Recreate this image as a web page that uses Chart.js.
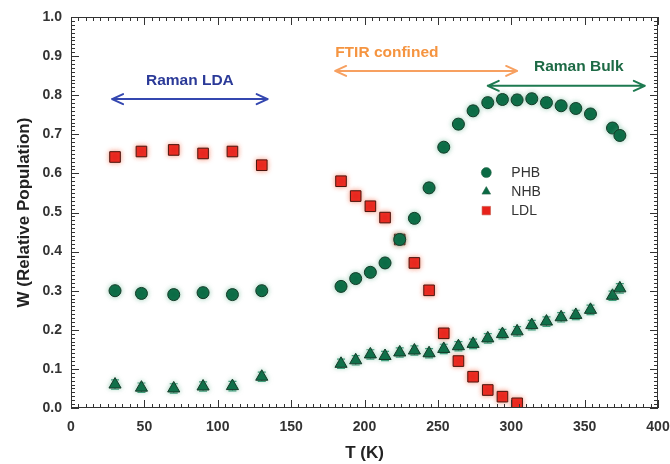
<!DOCTYPE html>
<html>
<head>
<meta charset="utf-8">
<script src="https://cdn.jsdelivr.net/npm/chart.js@4/dist/chart.umd.min.js"></script>
<style>
  html, body { margin: 0; padding: 0; background: #ffffff; }
  #wrap { width: 670px; height: 464px; position: relative; }
</style>
</head>
<body>
<div id="wrap"><canvas id="c" width="670" height="464"></canvas></div>
<script>
// ---- data ----
const tLow = [30, 48, 70, 90, 110, 130];
const tHigh = [184, 194, 204, 214, 224, 234, 244, 254, 264, 274, 284, 294, 304, 314, 324, 334, 344, 354, 369, 374];

const phbLow = [0.300, 0.293, 0.290, 0.295, 0.290, 0.300];
const nhbLow = [0.060, 0.052, 0.050, 0.055, 0.056, 0.080];
const ldlLow = [0.642, 0.656, 0.660, 0.651, 0.656, 0.621];

const phbHigh = [0.311, 0.331, 0.347, 0.371, 0.431, 0.485, 0.563, 0.667, 0.726, 0.760, 0.781, 0.789, 0.788, 0.791, 0.781, 0.773, 0.766, 0.752, 0.716, 0.697];
const nhbHigh = [0.113, 0.122, 0.137, 0.133, 0.142, 0.147, 0.140, 0.151, 0.158, 0.164, 0.178, 0.189, 0.196, 0.212, 0.221, 0.232, 0.238, 0.251, 0.287, 0.306];
const tLdlHigh = [184, 194, 204, 214, 224, 234, 244, 254, 264, 274, 284, 294, 304];
const ldlHigh = [0.580, 0.542, 0.516, 0.487, 0.431, 0.371, 0.301, 0.191, 0.120, 0.080, 0.046, 0.029, 0.012];

const errW = 0.012;

const xTicks = [0, 50, 100, 150, 200, 250, 300, 350, 400];
const yTicks = [0.0, 0.1, 0.2, 0.3, 0.4, 0.5, 0.6, 0.7, 0.8, 0.9, 1.0];

const seriesNames = ['PHB', 'NHB', 'LDL'];

function pts(xs, ys) { return xs.map((x, i) => ({ x: x, y: ys[i] })); }

const GREEN = '#0a6a44';
const RED = '#e8221b';

const data = {
  datasets: [
    { label: seriesNames[0], data: pts(tLow, phbLow).concat(pts(tHigh, phbHigh)),
      pointStyle: 'circle', pointRadius: 6, backgroundColor: GREEN, borderColor: '#153a28', borderWidth: 1, halo: 'rgba(80,170,130,0.55)' },
    { label: seriesNames[1], data: pts(tLow, nhbLow).concat(pts(tHigh, nhbHigh)),
      pointStyle: 'triangle', pointRadius: 7, backgroundColor: GREEN, borderColor: '#153a28', borderWidth: 1, halo: 'rgba(80,170,130,0.55)' },
    { label: seriesNames[2], data: pts(tLow, ldlLow).concat(pts(tLdlHigh, ldlHigh)),
      pointStyle: 'rect', pointRadius: 7.5, backgroundColor: RED, borderColor: '#4a160f', borderWidth: 1, halo: 'rgba(245,120,90,0.75)' }
  ]
};

const FONT = '"Liberation Sans", Arial, sans-serif';

// error bars + halo
const errorBars = {
  id: 'errorBars',
  beforeDatasetDraw(chart, args) {
    const ds = chart.data.datasets[args.index];
    const meta = args.meta;
    const ctx = chart.ctx;
    const ys = chart.scales.y;
    ctx.save();
    ctx.strokeStyle = '#3f9c7c';
    ctx.lineWidth = 1.2;
    meta.data.forEach((el, i) => {
      const v = ds.data[i].y;
      const top = ys.getPixelForValue(Math.min(1, v + errW));
      const bot = ys.getPixelForValue(Math.max(0, v - errW));
      ctx.beginPath();
      ctx.moveTo(el.x, top); ctx.lineTo(el.x, bot);
      ctx.moveTo(el.x - 4, top); ctx.lineTo(el.x + 4, top);
      if (v - errW > 0) { ctx.moveTo(el.x - 4, bot); ctx.lineTo(el.x + 4, bot); }
      ctx.stroke();
    });
    ctx.restore();
    ctx.save();
    ctx.shadowColor = ds.halo;
    ctx.shadowBlur = 5;
  },
  afterDatasetDraw(chart) {
    chart.ctx.restore();
  }
};

// inward ticks on all four sides
const frameTicks = {
  id: 'frameTicks',
  afterDraw(chart) {
    const ctx = chart.ctx;
    const a = chart.chartArea;
    const xs = chart.scales.x, ys = chart.scales.y;
    ctx.save();
    ctx.strokeStyle = '#333';
    ctx.lineWidth = 1;
    ctx.strokeRect(a.left + 0.5, a.top + 0.5, a.right - a.left - 1, a.bottom - a.top - 1);
    ctx.beginPath();
    for (let k = 0; k <= 80; k++) {
      const v = k * 5;
      const px = Math.round(xs.getPixelForValue(v)) + 0.5;
      const len = (k % 10 === 0) ? 8 : 4;
      ctx.moveTo(px, a.bottom); ctx.lineTo(px, a.bottom - len);
      ctx.moveTo(px, a.top); ctx.lineTo(px, a.top + len);
    }
    for (let k = 0; k <= 100; k++) {
      const v = k / 100;
      const py = Math.round(ys.getPixelForValue(v)) + 0.5;
      const len = (k % 10 === 0) ? 8 : 4;
      ctx.moveTo(a.left, py); ctx.lineTo(a.left + len, py);
      ctx.moveTo(a.right, py); ctx.lineTo(a.right - len, py);
    }
    ctx.stroke();
    ctx.restore();
  }
};

function arrowHead(ctx, x, y, dir) {
  ctx.moveTo(x, y);
  ctx.lineTo(x - dir * 11, y - 5);
  ctx.moveTo(x, y);
  ctx.lineTo(x - dir * 11, y + 5);
}

// range arrows with captions
const rangeArrows = {
  id: 'rangeArrows',
  afterDatasetsDraw(chart, args, opts) {
    const ctx = chart.ctx;
    const xs = chart.scales.x, ys = chart.scales.y;
    opts.items.forEach(it => {
      const x1 = xs.getPixelForValue(it.from), x2 = xs.getPixelForValue(it.to);
      const y = ys.getPixelForValue(it.at);
      ctx.save();
      ctx.strokeStyle = it.color;
      ctx.lineWidth = 2;
      ctx.lineCap = 'round';
      ctx.beginPath();
      ctx.moveTo(x1, y); ctx.lineTo(x2, y);
      arrowHead(ctx, x1, y, -1);
      arrowHead(ctx, x2, y, 1);
      ctx.stroke();
      ctx.fillStyle = it.textColor;
      ctx.font = 'bold 15.5px ' + FONT;
      ctx.textAlign = it.align;
      ctx.textBaseline = 'middle';
      ctx.fillText(it.text, xs.getPixelForValue(it.tx), ys.getPixelForValue(it.ty));
      ctx.restore();
    });
  }
};

// legend inside the plot
const innerLegend = {
  id: 'innerLegend',
  afterDatasetsDraw(chart, args, opts) {
    const ctx = chart.ctx;
    const xs = chart.scales.x, ys = chart.scales.y;
    const mx = xs.getPixelForValue(opts.x);
    chart.data.datasets.forEach((ds, i) => {
      const my = ys.getPixelForValue(opts.y) + i * 19;
      ctx.save();
      ctx.fillStyle = ds.backgroundColor;
      ctx.strokeStyle = ds.pointStyle === 'rect' ? '#c86050' : '#2e6a4e';
      ctx.lineWidth = 0.6;
      Chart.helpers.drawPoint(ctx, {
        pointStyle: ds.pointStyle,
        radius: ds.pointStyle === 'rect' ? 6 : 5,
        rotation: 0,
        borderWidth: 0.6
      }, mx, my);
      ctx.fillStyle = '#333';
      ctx.font = '14px ' + FONT;
      ctx.textAlign = 'left';
      ctx.textBaseline = 'middle';
      ctx.fillText(ds.label, mx + 25, my + 1);
      ctx.restore();
    });
  }
};

new Chart(document.getElementById('c'), {
  type: 'scatter',
  data: data,
  plugins: [errorBars, frameTicks, rangeArrows, innerLegend],
  options: {
    responsive: false,
    animation: false,
    layout: { padding: { top: 17, right: 12, left: 0, bottom: 0 } },
    plugins: {
      legend: { display: false },
      tooltip: { enabled: false },
      rangeArrows: {
        items: [
          { text: 'Raman LDA', from: 28, to: 134, at: 0.790, tx: 81, ty: 0.837, align: 'center', color: '#3447b0', textColor: '#2b3a98' },
          { text: 'FTIR confined', from: 180, to: 304, at: 0.862, tx: 180, ty: 0.909, align: 'left', color: '#f7a060', textColor: '#f59440' },
          { text: 'Raman Bulk', from: 284, to: 391, at: 0.824, tx: 346, ty: 0.872, align: 'center', color: '#1d7a50', textColor: '#1d6a45' }
        ]
      },
      innerLegend: { x: 283, y: 0.602 }
    },
    scales: {
      x: {
        type: 'linear', min: 0, max: 400,
        afterBuildTicks(s) { s.ticks = xTicks.map(v => ({ value: v })); },
        afterFit(s) { s.height = 56; s.paddingLeft = 0; s.paddingRight = 0; },
        grid: { display: false, drawTicks: false },
        border: { display: false },
        ticks: { padding: 11, color: '#333', font: { family: FONT, size: 14, weight: 'bold' } },
        title: { display: true, text: 'T (K)', color: '#222', padding: { top: 0, bottom: 0 }, font: { family: FONT, size: 17, weight: 'bold' } }
      },
      y: {
        type: 'linear', min: 0, max: 1,
        afterBuildTicks(s) { s.ticks = yTicks.map(v => ({ value: v })); },
        afterFit(s) { s.width = 71; s.paddingTop = 0; s.paddingBottom = 0; },
        grid: { display: false, drawTicks: false },
        border: { display: false },
        ticks: { padding: 9, color: '#333', font: { family: FONT, size: 14, weight: 'bold' }, callback: v => Number(v).toFixed(1) },
        title: { display: true, text: 'W (Relative Population)', color: '#222', padding: { top: 14, bottom: 0 }, font: { family: FONT, size: 17, weight: 'bold' } }
      }
    }
  }
});
</script>
</body>
</html>
